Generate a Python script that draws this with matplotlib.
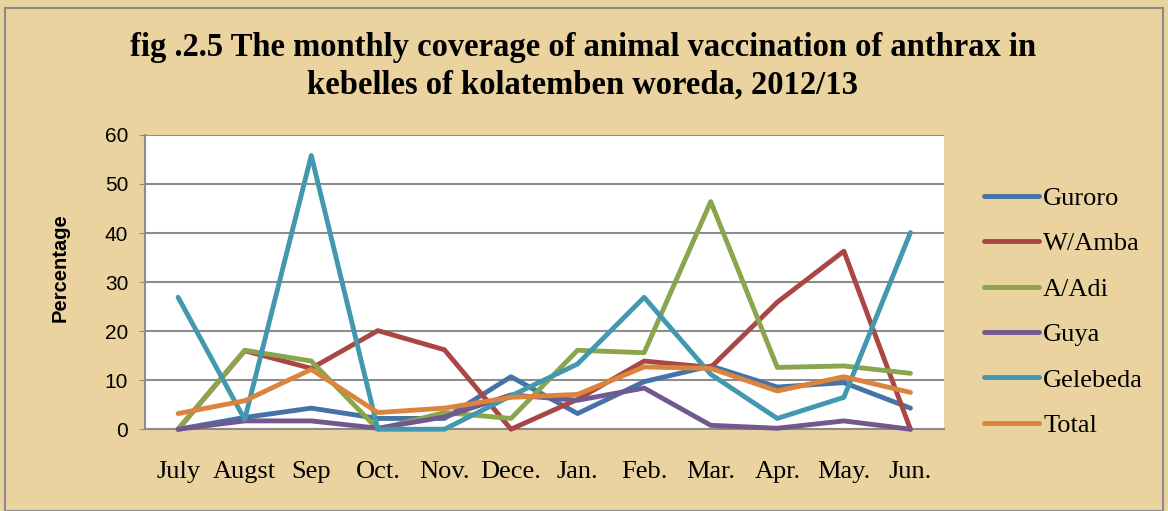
import numpy as np
import matplotlib.pyplot as plt

months = ['July', 'Augst', 'Sep', 'Oct.', 'Nov.', 'Dece.', 'Jan.', 'Feb.', 'Mar.', 'Apr.', 'May.', 'Jun.']

guroro   = [0, 2.4, 4.3, 2.2, 2.2, 10.7, 3.2, 9.7, 12.9, 8.6, 9.5, 4.3]
w_amba   = [0, 16.0, 12.4, 20.1, 16.2, 0, 6.1, 13.9, 12.6, 25.9, 36.3, 0]
a_adi    = [0, 16.1, 13.9, 0, 3.4, 2.2, 16.1, 15.6, 46.4, 12.6, 12.9, 11.4]
guya     = [0, 1.7, 1.7, 0.2, 2.5, 7.0, 5.9, 8.4, 0.8, 0.2, 1.7, 0]
gelebeda = [26.9, 2.0, 55.8, 0, 0, 6.8, 13.3, 26.9, 11.2, 2.2, 6.5, 40.1]
total    = [3.2, 5.8, 12.2, 3.4, 4.3, 6.5, 7.1, 12.7, 12.4, 7.8, 10.7, 7.5]

series = [('Guroro', guroro, '#4572A7'),
          ('W/Amba', w_amba, '#AA4643'),
          ('A/Adi', a_adi, '#89A54E'),
          ('Guya', guya, '#71588F'),
          ('Gelebeda', gelebeda, '#4198AF'),
          ('Total', total, '#DB843D')]

bg = '#EBD39F'
fig = plt.figure(figsize=(11.68, 5.11), dpi=100, facecolor=bg)
ax = fig.add_axes([0.124, 0.160, 0.684, 0.576])
ax.set_facecolor('white')

x = np.arange(len(months))
for name, vals, col in series:
    ax.plot(x, vals, color=col, lw=3.5, label=name, solid_capstyle='round',
            solid_joinstyle='round', clip_on=False, zorder=3)

ax.set_xlim(-0.5, 11.5)
ax.set_ylim(0, 60)
ax.set_yticks(range(0, 61, 10))
ax.yaxis.grid(True, color='#8C8C8C', lw=1.5, zorder=1)
ax.set_axisbelow(True)
ax.set_xticks(x)
ax.set_xticklabels(months, family='Liberation Serif', fontsize=19)
ax.tick_params(axis='x', length=0, pad=23)
ax.tick_params(axis='y', length=4, color='#8C8C8C', labelsize=15, pad=8)
for lab in ax.get_yticklabels():
    lab.set_family('Liberation Sans')
for s in ['top', 'right']:
    ax.spines[s].set_visible(False)
for s in ['left', 'bottom']:
    ax.spines[s].set_color('#8C8C8C')
    ax.spines[s].set_linewidth(1.5)

ax.set_ylabel('Percentage', family='Liberation Sans', fontweight='bold', fontsize=14.5)
ax.yaxis.set_label_coords(-0.094, 0.55)

fig.text(0.499, 0.87, 'fig .2.5 The monthly coverage of animal vaccination of anthrax in\nkebelles of kolatemben woreda, 2012/13',
         ha='center', va='center', family='Liberation Serif', fontweight='bold', fontsize=23.5, linespacing=1.3)

fig.legend(loc='center left', bbox_to_anchor=(0.822, 0.39), frameon=False,
           prop={'family': 'Liberation Serif', 'size': 19}, handlelength=2.1,
           handletextpad=0.15, labelspacing=0.83)

# outer frame
fig.patches.append(plt.Rectangle((0.004, 0.0), 0.992, 0.985, transform=fig.transFigure,
                                 fill=False, edgecolor='#8C8C8C', lw=1.5))

plt.savefig('out.png', dpi=100, facecolor=bg)
